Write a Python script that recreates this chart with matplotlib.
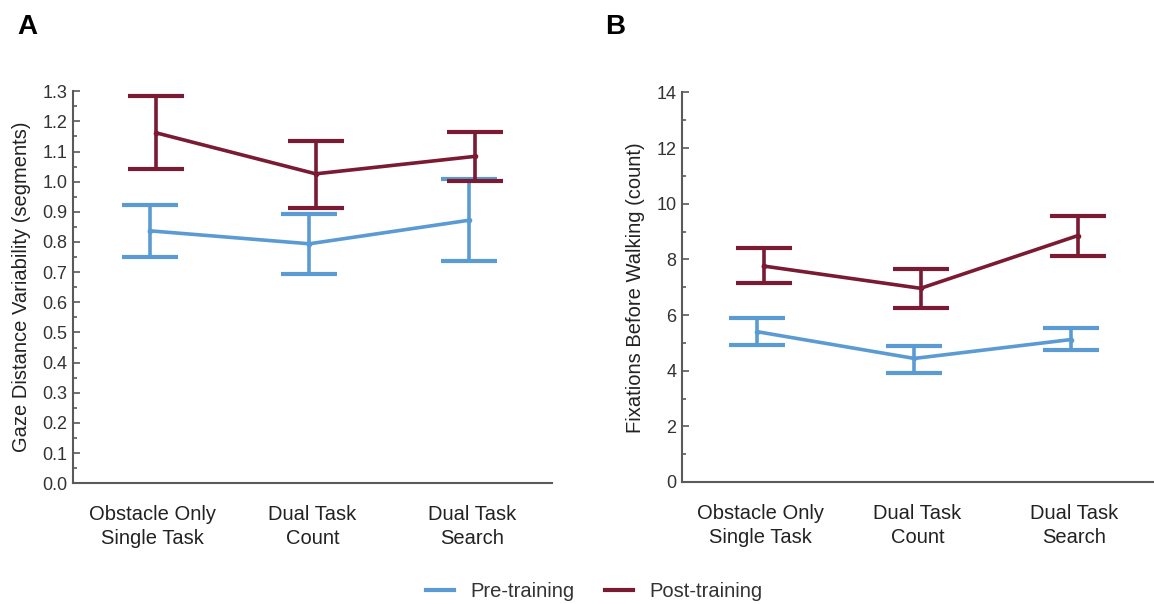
import matplotlib
matplotlib.use("Agg")
import matplotlib.pyplot as plt
import numpy as np

plt.rcParams['font.family'] = ['Liberation Sans', 'DejaVu Sans']

# categories shared by both panels
conditions = ["Obstacle Only\nSingle Task", "Dual Task\nCount", "Dual Task\nSearch"]
groups = ["Pre-training", "Post-training"]

# Panel A: gaze distance variability (mean, lower, upper)
gaze_pre = [0.837, 0.794, 0.872]
gaze_pre_lo = [0.751, 0.693, 0.737]
gaze_pre_hi = [0.924, 0.894, 1.008]
gaze_post = [1.162, 1.026, 1.084]
gaze_post_lo = [1.043, 0.914, 1.001]
gaze_post_hi = [1.284, 1.135, 1.166]

# Panel B: fixations before walking (mean, lower, upper)
fix_pre = [5.40, 4.44, 5.12]
fix_pre_lo = [4.92, 3.93, 4.74]
fix_pre_hi = [5.88, 4.88, 5.52]
fix_post = [7.76, 6.96, 8.85]
fix_post_lo = [7.16, 6.27, 8.12]
fix_post_hi = [8.40, 7.64, 9.56]

col_pre = "#5b9bd3"
col_post = "#7a1a33"
spine_col = "#5a5a5a"


def draw_panel(ax, series, ylim, major, minor, ylabel, fmt):
    x = np.arange(1, len(conditions) + 1)
    for (mean, lo, hi), col, dx, lab in zip(series, [col_pre, col_post], [-0.02, 0.02], groups):
        mean = np.array(mean)
        err = [mean - np.array(lo), np.array(hi) - mean]
        ax.errorbar(x + dx, mean, yerr=err, color=col, lw=2.6, elinewidth=2.6,
                    capsize=20, capthick=3, marker='o', ms=3, label=lab)
    ax.set_xlim(0.5, 3.5)
    ax.set_ylim(*ylim)
    ax.set_yticks(np.arange(ylim[0], ylim[1] + 1e-9, major))
    ax.set_yticks(np.arange(ylim[0], ylim[1] + 1e-9, minor), minor=True)
    ax.yaxis.set_major_formatter(plt.FormatStrFormatter(fmt))
    ax.set_xticks(x)
    ax.set_xticklabels(conditions, fontsize=14.5, color="#222222", linespacing=1.3)
    ax.tick_params(axis='x', length=0, pad=16)
    ax.tick_params(axis='y', which='major', direction='in', length=5, width=1.2,
                   colors=spine_col, labelsize=13, labelcolor="#333333", pad=4)
    ax.tick_params(axis='y', which='minor', direction='in', length=3, width=1.2,
                   colors=spine_col)
    for s in ['top', 'right']:
        ax.spines[s].set_visible(False)
    for s in ['left', 'bottom']:
        ax.spines[s].set_color(spine_col)
        ax.spines[s].set_linewidth(1.5)
    ax.set_ylabel(ylabel, fontsize=14.5, color="#222222", labelpad=8)


fig = plt.figure(figsize=(11.54, 6.04), dpi=100)
axA = fig.add_axes([0.0633, 0.200, 0.415, 0.649])
axB = fig.add_axes([0.591, 0.202, 0.408, 0.645])

draw_panel(axA, [(gaze_pre, gaze_pre_lo, gaze_pre_hi), (gaze_post, gaze_post_lo, gaze_post_hi)],
           (0.0, 1.3), 0.1, 0.05, "Gaze Distance Variability (segments)", "%.1f")
draw_panel(axB, [(fix_pre, fix_pre_lo, fix_pre_hi), (fix_post, fix_post_lo, fix_post_hi)],
           (0, 14), 2, 1, "Fixations Before Walking (count)", "%d")

fig.text(0.024, 0.955, "A", fontsize=20, fontweight='bold', ha='center', va='center')
fig.text(0.533, 0.955, "B", fontsize=20, fontweight='bold', ha='center', va='center')

handles = [plt.Line2D([], [], color=col_pre, lw=3), plt.Line2D([], [], color=col_post, lw=3)]
fig.legend(handles, groups, loc='center', bbox_to_anchor=(0.515, 0.020), ncol=2,
           frameon=False, fontsize=14.5, handlelength=1.4, columnspacing=1.5,
           handletextpad=0.8, labelcolor="#333333")

fig.savefig("out.png", dpi=100)
